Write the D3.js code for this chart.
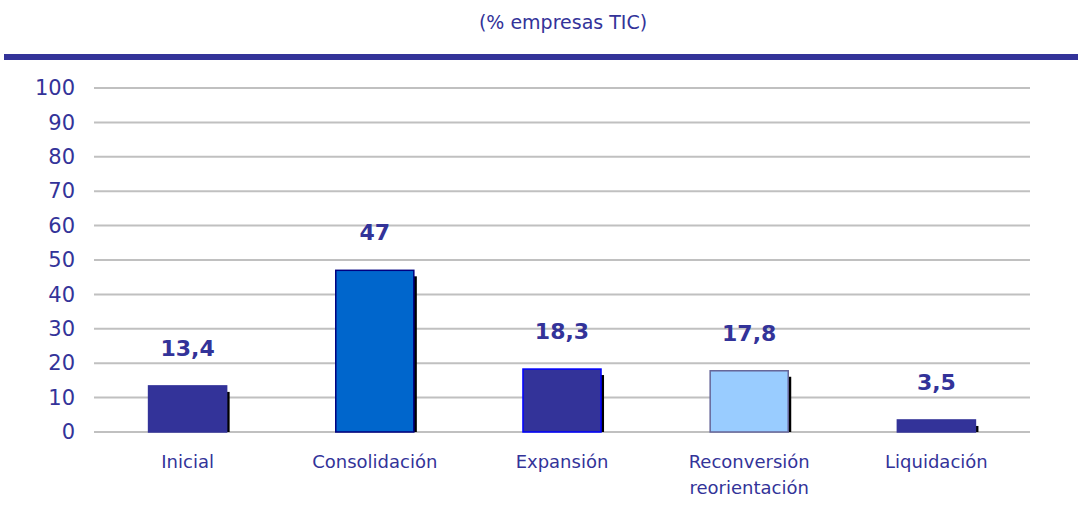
<!DOCTYPE html>
<html>
<head>
<meta charset="utf-8">
<script src="https://cdn.jsdelivr.net/npm/d3@7"></script>
<style>
  html, body { margin: 0; padding: 0; background: #ffffff; }
  svg { display: block; }
  text { font-family: Verdana, "DejaVu Sans", sans-serif; }
</style>
</head>
<body>
<svg id="chart" width="1078" height="531"></svg>
<script>
// Phases of the companies and their share (% of ICT companies)
const categories = ["Inicial", "Consolidación", "Expansión", "Reconversión\nreorientación", "Liquidación"];
const values = [13.4, 47, 18.3, 17.8, 3.5];
const valueLabels = ["13,4", "47", "18,3", "17,8", "3,5"];
const yTicks = [0, 10, 20, 30, 40, 50, 60, 70, 80, 90, 100];
const fills = ["#333399", "#0066CC", "#333399", "#99CCFF", "#333399"];
const strokes = ["#333399", "#000080", "#0000FF", "#666699", "#333399"];
const subtitle = "(% empresas TIC)";

const svg = d3.select("#chart");
const ink = "#333399";

const plot = { left: 94, right: 1030, top: 88, bottom: 432 };

const x = d3.scaleBand()
  .domain(categories)
  .range([plot.left, plot.right])
  .paddingInner(0.583)
  .paddingOuter(0.2915);

const y = d3.scaleLinear().domain([0, 100]).range([plot.bottom, plot.top]);

// Subtitle and header band
svg.append("text")
  .attr("x", 563).attr("y", 29)
  .attr("text-anchor", "middle")
  .attr("fill", ink)
  .style("font-size", "19px")
  .text(subtitle);

svg.append("rect")
  .attr("x", 4).attr("y", 54)
  .attr("width", 1074).attr("height", 6)
  .attr("fill", ink);

// Horizontal gridlines and y tick labels
const yAxis = d3.axisLeft(y).tickValues(yTicks).tickSize(0).tickPadding(19);
const gy = svg.append("g").attr("transform", `translate(${plot.left},0)`).call(yAxis);
gy.select(".domain").remove();
gy.selectAll("text")
  .attr("fill", ink)
  .style("font-size", "21px")
  .style("font-family", "Verdana, 'DejaVu Sans', sans-serif");

svg.append("g")
  .selectAll("line")
  .data(yTicks)
  .join("line")
  .attr("x1", plot.left).attr("x2", plot.right)
  .attr("y1", d => y(d)).attr("y2", d => y(d))
  .attr("stroke", "#c0c0c0")
  .attr("stroke-width", 2);

// Bars with a dark drop shadow on their right edge
const bars = svg.append("g")
  .selectAll("g")
  .data(categories.map((c, i) => ({ c, v: values[i], i })))
  .join("g");

bars.append("rect")
  .attr("x", d => x(d.c) + 3)
  .attr("y", d => Math.min(y(d.v) + 6, plot.bottom))
  .attr("width", x.bandwidth())
  .attr("height", d => Math.max(0, plot.bottom - (y(d.v) + 6)))
  .attr("fill", "#000000");

bars.append("rect")
  .attr("x", d => x(d.c))
  .attr("y", d => y(d.v))
  .attr("width", x.bandwidth())
  .attr("height", d => plot.bottom - y(d.v))
  .attr("fill", d => fills[d.i])
  .attr("stroke", d => strokes[d.i])
  .attr("stroke-width", 1.5);

// Value labels above the bars
bars.append("text")
  .attr("x", d => x(d.c) + x.bandwidth() / 2)
  .attr("y", d => y(d.v) - 30)
  .attr("text-anchor", "middle")
  .attr("fill", ink)
  .style("font-size", "22px")
  .style("font-weight", "bold")
  .text(d => valueLabels[d.i]);

// Category labels
const xl = svg.append("g")
  .selectAll("text")
  .data(categories)
  .join("text")
  .attr("x", d => x(d) + x.bandwidth() / 2)
  .attr("y", 468)
  .attr("text-anchor", "middle")
  .attr("fill", ink)
  .style("font-size", "18px");

xl.each(function(d) {
  const lines = d.split("\n");
  d3.select(this).selectAll("tspan")
    .data(lines)
    .join("tspan")
    .attr("x", x(d) + x.bandwidth() / 2)
    .attr("dy", (l, j) => j === 0 ? 0 : 26)
    .text(l => l);
});
</script>
</body>
</html>
